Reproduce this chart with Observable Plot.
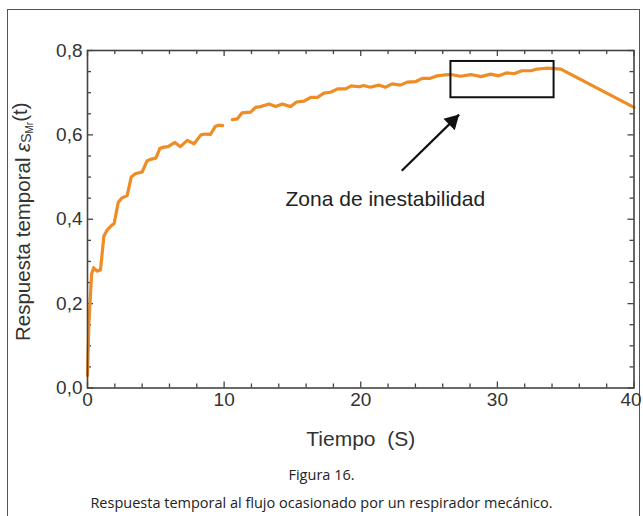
<!DOCTYPE html>
<html>
<head>
<meta charset="utf-8">
<script src="https://cdn.jsdelivr.net/npm/d3@7"></script>
<script src="https://cdn.jsdelivr.net/npm/@observablehq/plot@0.6"></script>
<style>
  body { margin: 0; background: #fff; }
  #border { position: absolute; left: 7px; top: 9px; width: 633px; height: 520px; border: 1px solid #555; box-sizing: border-box; }
  #chart { position: absolute; left: 0; top: 0; }
  #chart svg { overflow: visible; }
  .cap { position: absolute; left: 0; width: 643px; text-align: center; font-family: "Open Sans", "Noto Sans", sans-serif; font-size: 14.5px; color: #222; line-height: 20px; }
</style>
</head>
<body>
<div id="border"></div>
<div id="chart"></div>
<div class="cap" id="fig" style="top:465px">Figura 16.</div>
<div class="cap" id="caption" style="top:493px">Respuesta temporal al flujo ocasionado por un respirador mecánico.</div>
<script>
// ---- data ----
const times = [0, 0.1, 0.3, 0.45, 0.7, 0.95, 1.2, 1.45, 1.75, 1.95, 2.25, 2.5, 2.9, 3.2, 3.5, 4.0, 4.35, 4.6, 5.0, 5.3, 5.6, 5.9, 6.4, 6.8, 7.3, 7.8, 8.3, 8.6, 9.0, 9.35, 9.6, 9.9,
  NaN,
  10.6, 10.97, 11.3, 11.94, 12.3, 12.67, 13.28, 13.77, 14.26, 14.87, 15.3, 15.85, 16.34, 16.83, 17.3, 17.8, 18.3, 18.9, 19.3, 19.9, 20.2, 20.7, 21.3, 21.8, 22.3, 22.9, 23.4, 24.0, 24.5, 25.1, 25.6, 26.1, 26.6, 27.3, 28.06, 28.8, 29.5, 30.1, 30.7, 31.2, 31.8, 32.45, 32.9, 33.55, 34.2, 34.65, 35.1, 40];
const values = [0.03, 0.15, 0.27, 0.285, 0.277, 0.28, 0.36, 0.375, 0.385, 0.39, 0.44, 0.45, 0.456, 0.5, 0.508, 0.512, 0.538, 0.542, 0.545, 0.568, 0.571, 0.572, 0.582, 0.572, 0.587, 0.579, 0.6, 0.602, 0.601, 0.62, 0.623, 0.622,
  NaN,
  0.636, 0.638, 0.652, 0.654, 0.665, 0.667, 0.673, 0.667, 0.673, 0.667, 0.678, 0.68, 0.689, 0.689, 0.699, 0.701, 0.709, 0.709, 0.716, 0.714, 0.717, 0.713, 0.718, 0.713, 0.721, 0.718, 0.725, 0.726, 0.734, 0.734, 0.74, 0.742, 0.743, 0.739, 0.743, 0.738, 0.744, 0.74, 0.747, 0.745, 0.752, 0.752, 0.756, 0.758, 0.757, 0.756, 0.748, 0.665];

const xTicks = [0, 10, 20, 30, 40];
const yTicks = [0, 0.2, 0.4, 0.6, 0.8];
const xMinorTicks = [2, 4, 6, 8, 12, 14, 16, 18, 22, 24, 26, 28, 32, 34, 36, 38];
const yMinorTicks = [0.05, 0.1, 0.15, 0.25, 0.3, 0.35, 0.45, 0.5, 0.55, 0.65, 0.7, 0.75];

const boxTimes = [26.6, 34.15];
const boxValues = [0.688, 0.774];
const arrowTail = {t: 23.0, v: 0.515};
const arrowHead = {t: 27.2, v: 0.648};
const annotation = {t: 21.8, v: 0.447, text: "Zona de inestabilidad"};

const xLabel = "Tiempo\u00a0 (S)";
const yLabelMain = "Respuesta temporal ";

// ---- layout ----
const W = 643, H = 455;
const mL = 87, mR = 9.5, mT = 50, mB = 67.5;
const innerH = H - mT - mB;
const majorLen = 6, minorLen = 4;
const frameColor = "#444";
const font = "'Liberation Sans', Arial, sans-serif";

const curve = times.map((t, i) => ({t, v: values[i]}));
const box = [{x1: boxTimes[0], x2: boxTimes[1], y1: boxValues[0], y2: boxValues[1]}];

// arrow-head orientation from the same linear mapping as the plot
const sx = d3.scaleLinear([0, 40], [mL, W - mR]);
const sy = d3.scaleLinear([0, 0.8], [H - mB, mT]);
const ddx = sx(arrowHead.t) - sx(arrowTail.t), ddy = sy(arrowHead.v) - sy(arrowTail.v);
const theta = Math.atan2(ddx, -ddy);
const triR = 6;
const triY = Math.sqrt(triR * triR * Math.PI / (Math.sqrt(3) * 3));
const tipDist = 2 * triY;

const lastX = xTicks[xTicks.length - 1];
const tickFont = {tickSize: 0, tickPadding: 4, fontSize: 19, fill: "#333", label: null};

const plot = Plot.plot({
  width: W, height: H,
  marginLeft: mL, marginRight: mR, marginTop: mT, marginBottom: mB,
  style: {fontFamily: font, background: "transparent", overflow: "visible"},
  x: {domain: [0, 40]},
  y: {domain: [0, 0.8]},
  marks: [
    // inward ticks: bottom/top
    Plot.ruleX(xTicks, {x: d => d, insetTop: innerH - majorLen, stroke: frameColor, strokeWidth: 1.3}),
    Plot.ruleX(xMinorTicks, {x: d => d, insetTop: innerH - minorLen, stroke: frameColor, strokeWidth: 1.3}),
    Plot.ruleX(xTicks, {x: d => d, insetBottom: innerH - majorLen, stroke: frameColor, strokeWidth: 1.3}),
    Plot.ruleX(xMinorTicks, {x: d => d, insetBottom: innerH - minorLen, stroke: frameColor, strokeWidth: 1.3}),
    // inward ticks: left/right
    Plot.ruleY(yTicks, {y: d => d, insetRight: (W - mL - mR) - majorLen, stroke: frameColor, strokeWidth: 1.3}),
    Plot.ruleY(yMinorTicks, {y: d => d, insetRight: (W - mL - mR) - minorLen, stroke: frameColor, strokeWidth: 1.3}),
    Plot.ruleY(yTicks, {y: d => d, insetLeft: (W - mL - mR) - majorLen, stroke: frameColor, strokeWidth: 1.3}),
    Plot.ruleY(yMinorTicks, {y: d => d, insetLeft: (W - mL - mR) - minorLen, stroke: frameColor, strokeWidth: 1.3}),
    Plot.axisX(xTicks.filter(d => d !== lastX), tickFont),
    Plot.axisX([lastX], {...tickFont, dx: -3}),
    Plot.axisY(yTicks, {tickSize: 0, tickPadding: 5, fontSize: 19, fill: "#333", label: null, tickFormat: d => d.toFixed(1).replace(".", ",")}),
    Plot.line(curve, {x: "t", y: "v", stroke: "#ef8c24", strokeWidth: 3.2, strokeLinejoin: "round"}),
    Plot.rect(box, {x1: "x1", x2: "x2", y1: "y1", y2: "y2", stroke: "#111", strokeWidth: 2, fill: "none"}),
    Plot.link([{a: arrowTail, b: arrowHead}], {x1: d => d.a.t, y1: d => d.a.v, x2: d => d.b.t, y2: d => d.b.v, stroke: "#111", strokeWidth: 2.2}),
    Plot.dot([arrowHead], {x: "t", y: "v", symbol: "triangle", r: triR, fill: "#111", stroke: "none",
      rotate: theta * 180 / Math.PI, dx: -tipDist * Math.sin(theta), dy: tipDist * Math.cos(theta)}),
    Plot.text([annotation], {x: "t", y: "v", text: "text", fontSize: 21, fill: "#222", fontFamily: font}),
    Plot.text([xLabel], {frameAnchor: "bottom", text: d => d, dy: 58, fontSize: 21, fill: "#333", fontFamily: font}),
    Plot.frame({stroke: frameColor, strokeWidth: 1.6})
  ]
});

// rotated y-axis title with subscripts
const svg = d3.select(plot);
const yl = svg.append("text")
  .attr("transform", `translate(22, ${mT + innerH / 2 + 3}) rotate(-90)`)
  .attr("text-anchor", "middle")
  .attr("dominant-baseline", "central")
  .attr("font-family", font)
  .attr("font-size", 20.5)
  .attr("fill", "#333");
yl.append("tspan").text(yLabelMain);
yl.append("tspan").attr("font-style", "italic").text("ε");
yl.append("tspan").attr("font-size", 14).attr("dy", "0.3em").text("S");
yl.append("tspan").attr("font-size", 10).attr("dy", "0.25em").text("Mr");
yl.append("tspan").attr("dy", "-0.45em").text("(t)");

document.getElementById("chart").appendChild(plot);
</script>
</body>
</html>
